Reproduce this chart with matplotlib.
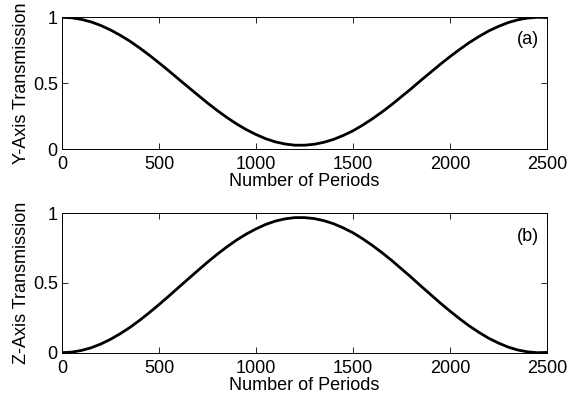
import matplotlib
matplotlib.use("Agg")
import matplotlib.pyplot as plt

plt.rcParams["font.family"] = ["Liberation Sans", "DejaVu Sans"]

# transmission sampled every 50 periods
periods = list(range(0, 2550, 50))
y_trans = [1.000, 0.996, 0.984, 0.965, 0.938, 0.904, 0.864, 0.819, 0.768,
           0.713, 0.655, 0.595, 0.533, 0.472, 0.411, 0.351, 0.294, 0.241,
           0.192, 0.149, 0.112, 0.080, 0.056, 0.040, 0.031, 0.031, 0.038,
           0.053, 0.075, 0.105, 0.140, 0.183, 0.231, 0.283, 0.339, 0.399,
           0.459, 0.522, 0.583, 0.644, 0.702, 0.757, 0.809, 0.855, 0.897,
           0.931, 0.960, 0.981, 0.994, 1.000, 0.998]
z_trans = [0.000, 0.004, 0.016, 0.035, 0.062, 0.096, 0.136, 0.181, 0.232,
           0.287, 0.345, 0.405, 0.467, 0.528, 0.589, 0.649, 0.706, 0.759,
           0.808, 0.851, 0.888, 0.920, 0.944, 0.960, 0.969, 0.969, 0.962,
           0.947, 0.925, 0.895, 0.860, 0.817, 0.769, 0.717, 0.661, 0.601,
           0.541, 0.478, 0.417, 0.356, 0.298, 0.243, 0.191, 0.145, 0.103,
           0.069, 0.040, 0.019, 0.006, 0.000, 0.002]

x_ticks = [0, 500, 1000, 1500, 2000, 2500]
y_ticks = [0, 0.5, 1]
y_ticklabels = ["0", "0.5", "1"]

panels = [
    (y_trans, "Y-Axis Transmission", "(a)", 0.83),
    (z_trans, "Z-Axis Transmission", "(b)", 0.83),
]

fig = plt.figure(figsize=(5.76, 4.0), dpi=100)
boxes = [[0.1076, 0.6268, 0.8421, 0.3300],
         [0.1076, 0.1183, 0.8421, 0.3485]]

for box, (vals, ylabel, tag, tag_y) in zip(boxes, panels):
    ax = fig.add_axes(box)
    ax.plot(periods, vals, color="black", lw=2.0, solid_capstyle="round")
    ax.set_xlim(0, 2500)
    ax.set_ylim(0, 1)
    ax.set_xticks(x_ticks)
    ax.set_yticks(y_ticks)
    ax.set_yticklabels(y_ticklabels)
    ax.tick_params(direction="in", top=True, right=True, length=4,
                   width=0.6, labelsize=13)
    ax.tick_params(axis="x", pad=5)
    ax.tick_params(axis="y", pad=3)
    for sp in ax.spines.values():
        sp.set_linewidth(0.7)
    ax.set_xlabel("Number of Periods", fontsize=13, labelpad=0)
    ax.set_ylabel(ylabel, fontsize=13, labelpad=2)
    ax.text(2400, tag_y, tag, fontsize=13, ha="center", va="center")

fig.savefig("out.png", dpi=100)
